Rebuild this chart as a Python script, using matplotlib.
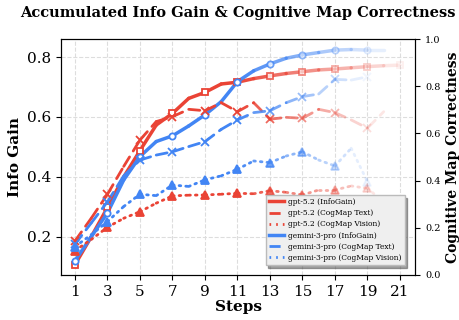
import numpy as np
import matplotlib.pyplot as plt

# Datos
steps_gpt = list(range(1, 22))
gpt_info = [0.107, 0.20, 0.298, 0.40, 0.488, 0.573, 0.612, 0.662, 0.682, 0.710, 0.716,
            0.728, 0.737, 0.745, 0.751, 0.757, 0.760, 0.764, 0.768, 0.771, 0.773]
steps_gpt_text = list(range(1, 21))
gpt_text = [0.144, 0.24, 0.342, 0.46, 0.572, 0.650, 0.671, 0.702, 0.696, 0.730, 0.692,
            0.730, 0.660, 0.668, 0.664, 0.702, 0.688, 0.657, 0.622, 0.692]
gpt_vision = [0.103, 0.15, 0.202, 0.24, 0.268, 0.304, 0.335, 0.338, 0.339, 0.342, 0.346,
              0.344, 0.357, 0.350, 0.339, 0.360, 0.360, 0.377, 0.367, 0.310]

steps_gem = list(range(1, 21))
gem_info = [0.12, 0.20, 0.28, 0.39, 0.468, 0.518, 0.537, 0.570, 0.607, 0.651, 0.718,
            0.754, 0.777, 0.796, 0.807, 0.815, 0.823, 0.825, 0.823, 0.823]
steps_gem_cog = list(range(1, 20))
gem_text = [0.13, 0.22, 0.31, 0.42, 0.487, 0.508, 0.522, 0.544, 0.565, 0.617, 0.657,
            0.688, 0.696, 0.730, 0.756, 0.767, 0.829, 0.826, 0.840]
gem_vision = [0.12, 0.17, 0.226, 0.29, 0.342, 0.336, 0.381, 0.375, 0.403, 0.420, 0.448,
              0.483, 0.476, 0.504, 0.522, 0.487, 0.462, 0.537, 0.395]

RED = "#EA4335"
BLUE = "#4285F4"

plt.rcParams['font.family'] = 'DejaVu Serif'


def fade(s, last):
    # opacidad que baja en los pasos finales
    if s <= 11:
        return 1.0
    return max(0.06, 1.0 - 0.92 * (s - 11) / (last - 11))


def draw(ax, xs, ys, color, ls, lw, marker, mfc, ms, last, label):
    for i in range(len(xs) - 1):
        a = fade((xs[i] + xs[i + 1]) / 2, last)
        ax.plot(xs[i:i + 2], ys[i:i + 2], color=color, ls=ls, lw=lw, alpha=a,
                solid_capstyle='round', dash_capstyle='round', zorder=3)
    for x, y in zip(xs, ys):
        if x % 2 == 1:
            a = fade(x, last)
            ax.plot([x], [y], marker=marker, ms=ms, mfc=mfc if mfc else color,
                    mec=color, mew=1.3, ls='none', alpha=a, zorder=4)
    ax.plot([], [], color=color, ls=ls, lw=lw, label=label)


fig = plt.figure(figsize=(4.6, 3.2), dpi=100)
ax = fig.add_axes([0.133, 0.141, 0.77, 0.737])
ax2 = ax.twinx()

draw(ax, steps_gpt, gpt_info, RED, '-', 2.5, 's', 'white', 4.5, 21, 'gpt-5.2 (InfoGain)')
draw(ax2, steps_gpt_text, gpt_text, RED, (0, (4, 2.5)), 2.0, 'x', None, 6, 20, 'gpt-5.2 (CogMap Text)')
draw(ax2, steps_gpt_text, gpt_vision, RED, (0, (0.6, 1.8)), 2.0, '^', None, 6, 20, 'gpt-5.2 (CogMap Vision)')
draw(ax, steps_gem, gem_info, BLUE, '-', 2.5, 'o', 'white', 4.5, 20, 'gemini-3-pro (InfoGain)')
draw(ax2, steps_gem_cog, gem_text, BLUE, (0, (4, 2.5)), 2.0, 'x', None, 6, 19, 'gemini-3-pro (CogMap Text)')
draw(ax2, steps_gem_cog, gem_vision, BLUE, (0, (0.6, 1.8)), 2.0, '^', None, 6, 19, 'gemini-3-pro (CogMap Vision)')

ax.set_xlim(0.15, 21.95)
ax.set_ylim(0.073, 0.86)
ax2.set_ylim(0, 1.0)
ax.set_xticks(range(1, 22, 2))
ax.set_yticks([0.2, 0.4, 0.6, 0.8])
ax2.set_yticks([0.0, 0.2, 0.4, 0.6, 0.8, 1.0])
ax.tick_params(labelsize=11)
ax2.tick_params(labelsize=7)
ax.grid(True, ls='--', color='#dddddd', lw=0.8)
ax.set_axisbelow(True)

ax.set_xlabel('Steps', fontsize=11, fontweight='bold', labelpad=1)
ax.set_ylabel('Info Gain', fontsize=11, fontweight='bold')
ax2.set_ylabel('Cognitive Map Correctness', fontsize=10, fontweight='bold')
ax.set_title('Accumulated Info Gain & Cognitive Map Correctness', fontsize=10.5,
             fontweight='bold', pad=16)

lines = ax.get_legend_handles_labels()
lines2 = ax2.get_legend_handles_labels()
order = [lines[0][0], lines2[0][0], lines2[0][1], lines[0][1], lines2[0][2], lines2[0][3]]
names = [lines[1][0], lines2[1][0], lines2[1][1], lines[1][1], lines2[1][2], lines2[1][3]]
leg = ax2.legend(order, names, loc='lower right', fontsize=5.4, shadow=True, fancybox=False,
                 framealpha=1, facecolor='#efefef', edgecolor='#bbbbbb',
                 handlelength=2.0, handletextpad=0.5, labelspacing=0.42, borderpad=0.45,
                 bbox_to_anchor=(0.98, 0.025))
leg.set_zorder(10)

fig.savefig('out.png', dpi=100)
